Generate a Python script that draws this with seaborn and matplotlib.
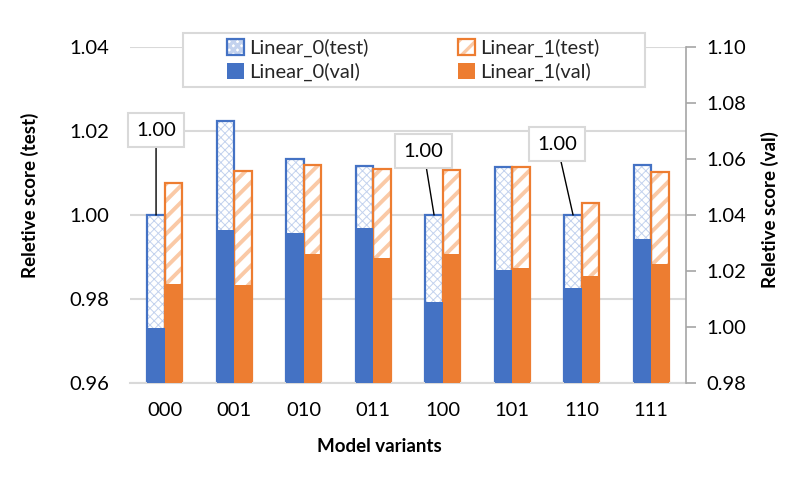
import pandas as pd
import matplotlib
matplotlib.use('Agg')
import matplotlib.pyplot as plt
import matplotlib.patches as mpatches
import seaborn as sns

# Chart values
variants = ['000', '001', '010', '011', '100', '101', '110', '111']
models = ['Linear_0', 'Linear_1']
test_l0 = [1.0000, 1.0225, 1.0133, 1.0117, 1.0000, 1.0115, 1.0000, 1.0120]
test_l1 = [1.0077, 1.0105, 1.0119, 1.0110, 1.0107, 1.0115, 1.0029, 1.0103]
val_l0 = [0.9996, 1.0346, 1.0337, 1.0355, 1.0090, 1.0204, 1.0140, 1.0315]
val_l1 = [1.0152, 1.0150, 1.0261, 1.0248, 1.0261, 1.0212, 1.0183, 1.0225]
left_ticks = [0.96, 0.98, 1.00, 1.02, 1.04]
right_ticks = [0.98, 1.00, 1.02, 1.04, 1.06, 1.08, 1.10]

df = pd.DataFrame({
    'variant': variants * 2,
    'model': [models[0]] * len(variants) + [models[1]] * len(variants),
    'test': test_l0 + test_l1,
    'val': val_l0 + val_l1,
})

blue, orange = '#4472C4', '#ED7D31'
light_blue, light_orange = '#C3D2EE', '#FAC9A6'
grid_gray = '#D9D9D9'
fs_tick = 14.5
fs_label = 13.5

sns.set_theme(style='white')
plt.rcParams['font.family'] = ['Lato', 'DejaVu Sans']
plt.rcParams['hatch.linewidth'] = 2.4

fig = plt.figure(figsize=(8.09, 4.8), dpi=100)
ax = fig.add_axes([130 / 809, 1 - 383 / 480, 556 / 809, 336 / 480])

# hatched test bars (left axis)
sns.barplot(data=df, x='variant', y='test', hue='model', palette=[light_blue, light_orange],
            width=0.5, saturation=1, errorbar=None, legend=False, ax=ax)
for cont, hatch, col, hlw in zip(ax.containers, ['xxxx', '//'], [light_blue, light_orange], [0.7, 2.8]):
    for bar in cont:
        bar.set_facecolor('white')
        bar.set_edgecolor(col)
        bar.set_linewidth(0)
        bar.set_hatch(hatch)
        if hasattr(bar, 'set_hatch_linewidth'):
            bar.set_hatch_linewidth(hlw)
# outlines of the test bars
sns.barplot(data=df, x='variant', y='test', hue='model', palette=[blue, orange],
            width=0.5, saturation=1, errorbar=None, legend=False, fill=False,
            linewidth=1.6, ax=ax)

ax.set_ylim(0.96, 1.04)
ax.set_yticks(left_ticks)
ax.set_yticklabels([f'{t:.2f}' for t in left_ticks])
ax.set_axisbelow(True)
ax.yaxis.grid(True, color=grid_gray, linewidth=1.5)
for s in ['top', 'left', 'right']:
    ax.spines[s].set_visible(False)
ax.spines['bottom'].set_color(grid_gray)
ax.spines['bottom'].set_linewidth(1.5)
ax.tick_params(axis='x', length=0, pad=14, labelsize=fs_tick, labelcolor='black')
ax.tick_params(axis='y', length=0, pad=15, labelsize=fs_tick, labelcolor='black')
ax.set_xlabel('Model variants', fontsize=fs_label, fontweight='bold', color='black')
ax.set_ylabel('Reletive score (test)', fontsize=fs_label, fontweight='bold', color='black')
ax.xaxis.set_label_coords((379 - 130) / 556, -0.163)
ax.yaxis.set_label_coords((39 - 130) / 556, (383 - 195) / 336)

# solid val bars (right axis)
ax2 = ax.twinx()
sns.barplot(data=df, x='variant', y='val', hue='model', palette=[blue, orange],
            width=0.5, saturation=1, errorbar=None, legend=False, linewidth=0, ax=ax2)
ax2.set_ylim(0.98, 1.10)
ax2.set_yticks(right_ticks)
ax2.set_yticklabels([f'{t:.2f}' for t in right_ticks])
for s in ['top', 'left', 'bottom']:
    ax2.spines[s].set_visible(False)
ax2.spines['right'].set_color('#A6A6A6')
ax2.spines['right'].set_linewidth(1.2)
ax2.tick_params(axis='y', length=7, width=1.2, color='#A6A6A6', pad=8, labelsize=fs_tick, labelcolor='black')
ax2.set_ylabel('Reletive score (val)', fontsize=fs_label, fontweight='bold', color='black')
ax2.yaxis.set_label_coords((761 - 130) / 556, (383 - 210) / 336)
ax2.grid(False)

# callouts on the test bars that equal 1.00
label_offsets = [(0, 61), (-7.5, 46), (-11.5, 51)]
k = 0
for i, v in enumerate(test_l0):
    if abs(v - 1.0) < 1e-9:
        bar = ax.containers[0][i]
        xb = bar.get_x() + bar.get_width() / 2
        ax2.annotate(f'{v:.2f}', xy=(xb, bar.get_height()), xycoords=ax.transData,
                     xytext=label_offsets[k], textcoords='offset points',
                     ha='center', va='center', fontsize=fs_tick, color='black',
                     bbox=dict(boxstyle='square,pad=0.42', fc='white', ec=grid_gray, lw=1.5),
                     arrowprops=dict(arrowstyle='-', color='black', lw=1, shrinkA=0, shrinkB=0))
        k += 1

# legend
frame = mpatches.Rectangle((183 / 809, 1 - 87 / 480), (645 - 183) / 809, 54 / 480,
                           transform=fig.transFigure, fc='white', ec=grid_gray, lw=1.5, zorder=3)
fig.add_artist(frame)
for m, col, light, hatch, xpos in zip(models, [blue, orange], [light_blue, light_orange],
                                      ['xxxx', '//'], [227, 458]):
    h_test = (mpatches.Patch(fc='white', ec=light, hatch=hatch, lw=0),
              mpatches.Patch(fc='none', ec=col, lw=1.6))
    h_val = mpatches.Patch(fc=col, ec='none')
    fig.legend([h_test, h_val], [f'{m}(test)', f'{m}(val)'], loc='center left',
               bbox_to_anchor=(xpos / 809, 1 - 60 / 480), frameon=False, fontsize=fs_tick,
               handlelength=0.85, handleheight=0.85, handletextpad=0.25,
               labelspacing=0.25, borderpad=0, borderaxespad=0)

fig.savefig('out.png', dpi=100)
